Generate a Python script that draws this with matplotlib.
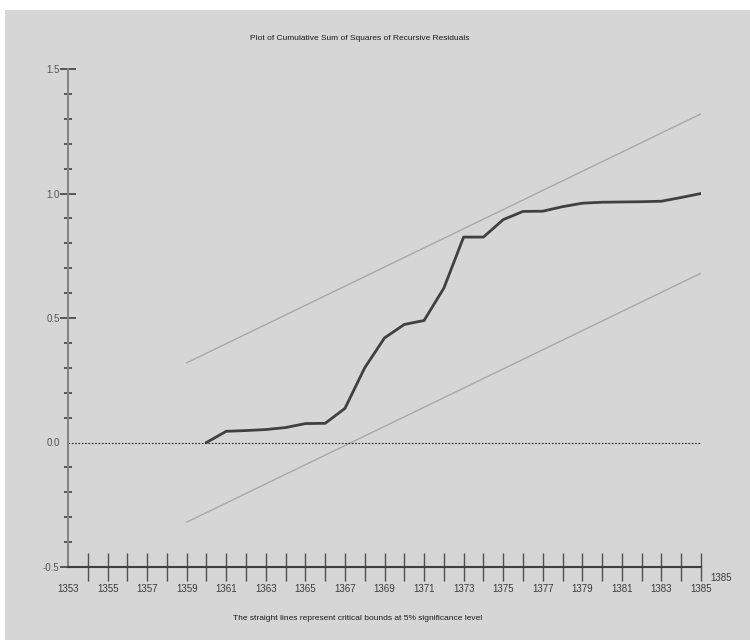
import matplotlib
matplotlib.use("Agg")
import matplotlib.pyplot as plt
import numpy as np
from matplotlib.patches import Rectangle

plt.rcParams["font.family"] = ["Liberation Sans", "DejaVu Sans"]

# Cumulative sum of squares of recursive residuals
years = np.arange(1360, 1386)
cusumsq = [0.000, 0.045, 0.048, 0.052, 0.060, 0.076, 0.077, 0.137, 0.300,
           0.420, 0.474, 0.490, 0.620, 0.825, 0.825, 0.895, 0.928, 0.929,
           0.947, 0.961, 0.965, 0.966, 0.967, 0.969, 0.984, 1.000]

# 5% critical bounds (straight lines between endpoints)
bound_years = [1359, 1385]
upper_bound = [0.32, 1.32]
lower_bound = [-0.32, 0.68]

xtick_labels = [str(y) for y in range(1353, 1386, 2)]
ytick_labels = ["-0.5", "0.0", "0.5", "1.0", "1.5"]

fig = plt.figure(figsize=(7.5, 6.4), dpi=100, facecolor="white")
fig.patches.append(Rectangle((5 / 750, 0), 1, 1 - 10 / 640, transform=fig.transFigure,
                             facecolor="#d6d6d6", edgecolor="none", zorder=-10))

ax = fig.add_axes([68 / 750, 1 - 567 / 640, 633 / 750, 498 / 640])
ax.set_facecolor("none")
ax.set_xlim(1353, 1385)
ax.set_ylim(-0.5, 1.5)

ax.plot(bound_years, upper_bound, color="#a8a8a8", lw=1.0)
ax.plot(bound_years, lower_bound, color="#a8a8a8", lw=1.0)
ax.plot([1353, 1385], [0, 0], color="#222222", lw=0.8, ls=(0, (1.5, 1.5)))
ax.plot(years, cusumsq, color="#404040", lw=2.0, solid_joinstyle="round")

for side in ("top", "right"):
    ax.spines[side].set_visible(False)
ax.spines["left"].set_color("#858585")
ax.spines["left"].set_linewidth(1.5)
ax.spines["bottom"].set_color("#404040")
ax.spines["bottom"].set_linewidth(1.5)

# labels every other year, tick marks on each year except where the y axis sits
ax.set_xticks(np.arange(1353, 1386, 2))
ax.set_xticklabels(xtick_labels)
ax.set_xticks(np.arange(1354, 1386, 2), minor=True)
ax.tick_params(axis="x", which="both", direction="inout", length=20, width=1.0,
               color="#505050", labelsize=7, labelcolor="#3a3a3a", pad=2)
ax.xaxis.get_major_ticks()[0].tick1line.set_visible(False)

ax.set_yticks([-0.5, 0.0, 0.5, 1.0, 1.5])
ax.set_yticklabels(ytick_labels)
ax.set_yticks(np.arange(-0.4, 1.5, 0.1), minor=True)
ax.tick_params(axis="y", which="major", direction="inout", length=12, width=1.2,
               color="#404040", labelsize=7, labelcolor="#555555", pad=0)
ax.tick_params(axis="y", which="minor", direction="inout", length=6, width=1.2,
               color="#404040")
ax.yaxis.get_major_ticks()[1].tick1line.set_visible(False)

ax.text(1385.45, -0.545, "1385", fontsize=7, color="#3a3a3a", ha="left", va="center")

fig.text(360 / 750, 1 - 38 / 640, "Plot of Cumulative Sum of Squares of Recursive Residuals",
         ha="center", va="center", fontsize=6, color="#1a1a1a")
fig.text(358 / 750, 1 - 619 / 640, "The straight lines represent critical bounds at 5% significance level",
         ha="center", va="center", fontsize=6, color="#1a1a1a")

fig.savefig("out.png", dpi=100, facecolor="white")
